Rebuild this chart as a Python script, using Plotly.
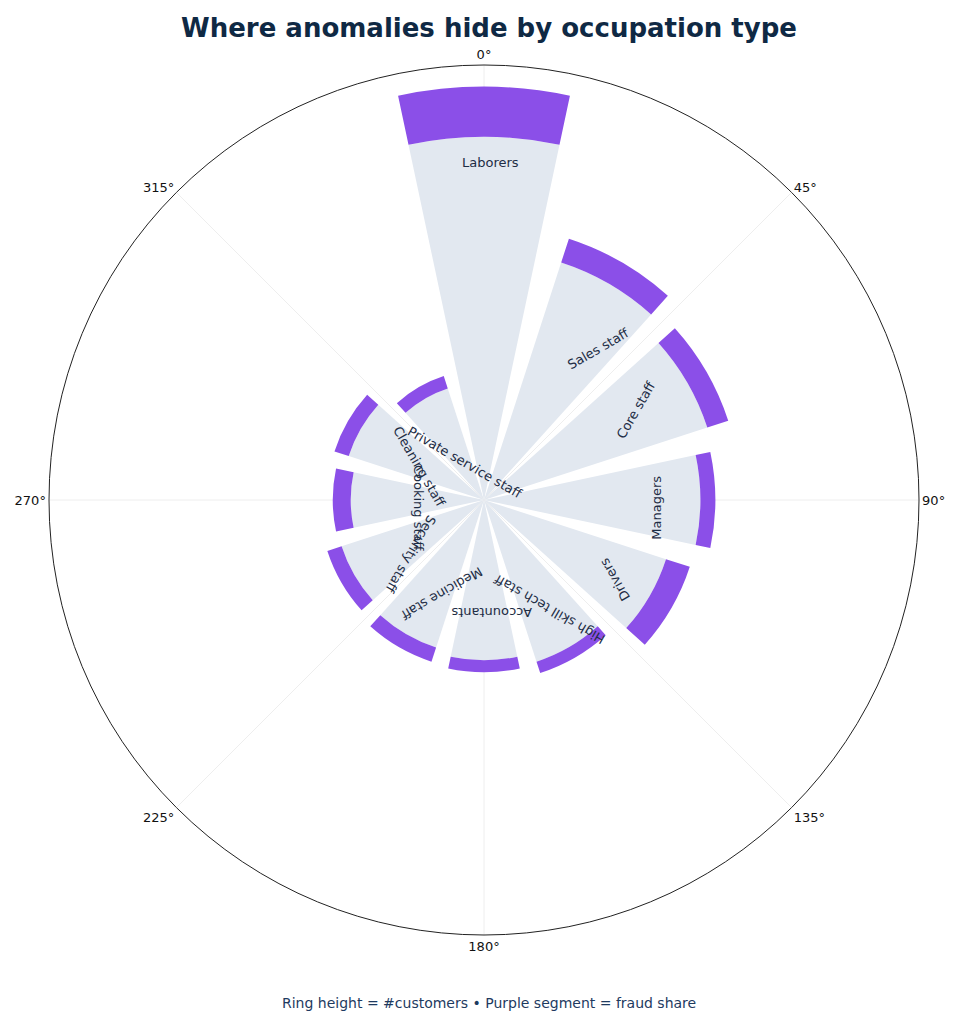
import math
import plotly.graph_objects as go

occupations = ["Laborers", "Sales staff", "Core staff", "Managers", "Drivers",
               "High skill tech staff", "Accountants", "Medicine staff", "Security staff",
               "Cooking staff", "Cleaning staff", "Private service staff"]
customers = [55200, 36700, 34300, 30900, 28900, 24300, 23000, 22700, 22000, 20200, 21000, 17400]
fraud = [6700, 3340, 2940, 2000, 3340, 1600, 1600, 2000, 2000, 2400, 2000, 1740]
angles = [i * 30 for i in range(len(occupations))]

RMAX = 58100
W, H = 962, 1024
CX, CY, RPX = 483, 500, 435
DX, DY = -7, -8  # compensate plotly's internal offset

base = [c - f for c, f in zip(customers, fraud)]

fig = go.Figure()
fig.add_trace(go.Barpolar(r=base, theta=angles, width=[24] * 12,
                          marker=dict(color="#e2e8f0", line=dict(width=0)),
                          hoverinfo="skip"))
fig.add_trace(go.Barpolar(r=fraud, theta=angles, width=[24] * 12, base=base,
                          marker=dict(color="#8b4fe8", line=dict(width=0)),
                          hoverinfo="skip"))

annotations = []
for name, b, th in zip(occupations, base, angles):
    gpx = b / RMAX * RPX
    rl = 1.23 * gpx - 92
    t = math.radians(th)
    x = (CX + rl * math.sin(t)) / W
    y = 1 - (CY - rl * math.cos(t)) / H
    annotations.append(dict(x=x, y=y, xref="paper", yref="paper", text=name,
                            showarrow=False, textangle=-th,
                            font=dict(size=13, color="#1e2d45", family="DejaVu Sans")))
annotations.append(dict(x=0.5, y=1 - 1005 / H, xref="paper", yref="paper",
                        text="Ring height = #customers • Purple segment = fraud share",
                        showarrow=False, font=dict(size=14, color="#1e3a5f", family="DejaVu Sans")))

fig.update_layout(
    width=W, height=H, margin=dict(l=0, r=0, t=0, b=0),
    paper_bgcolor="white", showlegend=False, barmode="overlay",
    title=dict(text="<b>Where anomalies hide by occupation type</b>", x=0.5, y=1 - 20 / H,
               xanchor="center", yanchor="middle",
               font=dict(size=26, color="#0f2944", family="DejaVu Sans")),
    polar=dict(
        domain=dict(x=[(48 + DX) / W, (918 + DX) / W], y=[1 - (935 + DY) / H, 1 - (65 + DY) / H]),
        bgcolor="white",
        radialaxis=dict(range=[0, RMAX], visible=False, showgrid=False),
        angularaxis=dict(direction="clockwise", rotation=90, tickmode="array",
                         tickvals=[0, 45, 90, 135, 180, 225, 270, 315],
                         ticktext=["0°", "45°", "90°", "135°", "180°", "225°", "270°", "315°"],
                         showline=True, linecolor="#222", linewidth=1,
                         gridcolor="#eeeeee", ticks="",
                         tickfont=dict(size=13, color="#111", family="DejaVu Sans")),
    ),
    annotations=annotations,
)
fig.write_html("out.html")
